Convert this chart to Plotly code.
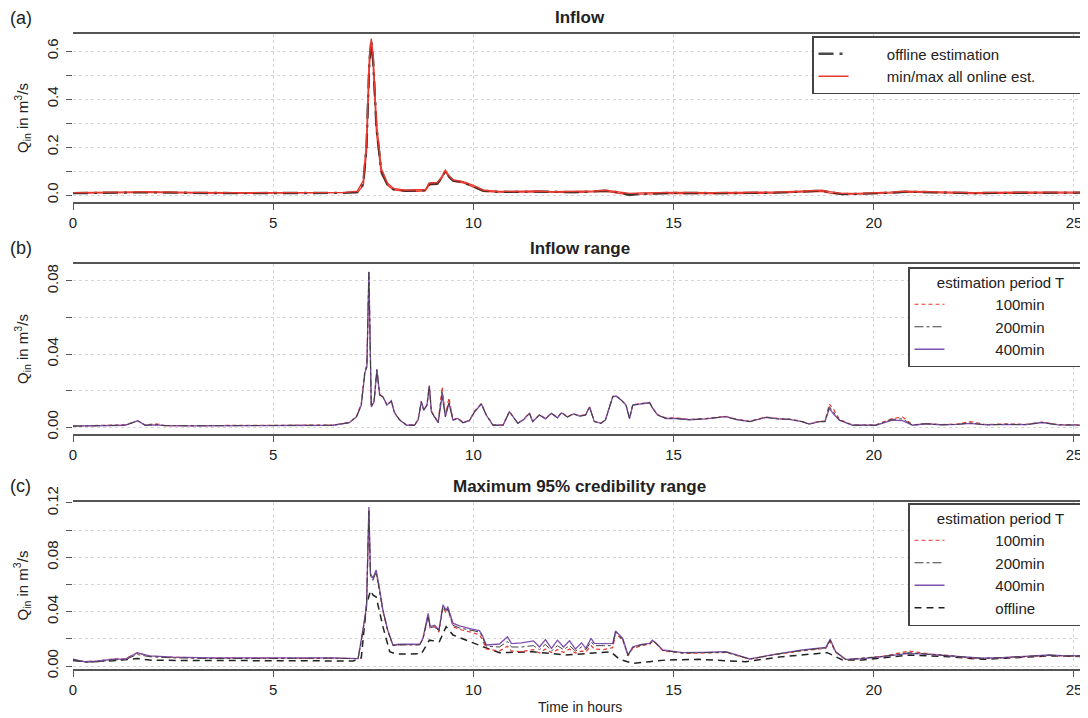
import plotly.graph_objects as go

# ---------------- data ----------------
# Panel (a): Inflow
t_a = [0, 0.5, 1.0, 1.5, 1.8, 2.2, 3, 4, 5, 6,
       6.8, 7.1, 7.25, 7.33, 7.4, 7.45, 7.5, 7.58, 7.7, 7.85,
       8.0, 8.3, 8.6, 8.8, 8.9, 9.1, 9.2, 9.3, 9.4, 9.5,
       9.75, 10.0, 10.25, 10.6, 11, 11.5, 12, 12.5, 13.0, 13.3,
       13.6, 13.9, 14.2, 14.6, 15, 16, 17, 17.5, 18.0, 18.4,
       18.7, 18.9, 19.2, 19.6, 20, 20.4, 20.8, 21.2, 21.6, 22,
       22.5, 23, 23.5, 24.1, 24.6, 25.3]
a_offline = [0.008, 0.008, 0.009, 0.011, 0.012, 0.010, 0.009, 0.008, 0.008, 0.008,
             0.009, 0.012, 0.05, 0.20, 0.55, 0.646, 0.55, 0.28, 0.10, 0.045,
             0.025, 0.018, 0.018, 0.02, 0.046, 0.048, 0.07, 0.101, 0.075, 0.06,
             0.054, 0.037, 0.018, 0.014, 0.013, 0.015, 0.012, 0.012, 0.015, 0.018,
             0.012, 0.0, 0.005, 0.008, 0.009, 0.008, 0.008, 0.01, 0.013, 0.015,
             0.018, 0.012, 0.004, 0.005, 0.006, 0.01, 0.014, 0.012, 0.01, 0.009,
             0.008, 0.009, 0.01, 0.012, 0.01, 0.01]
a_online_max = [0.010, 0.010, 0.011, 0.013, 0.014, 0.012, 0.011, 0.010, 0.010, 0.010,
                0.011, 0.016, 0.06, 0.22, 0.57, 0.652, 0.57, 0.30, 0.11, 0.05,
                0.028, 0.02, 0.02, 0.023, 0.05, 0.052, 0.074, 0.104, 0.078, 0.063,
                0.056, 0.04, 0.02, 0.016, 0.015, 0.017, 0.014, 0.014, 0.017, 0.02,
                0.015, 0.007, 0.009, 0.01, 0.011, 0.01, 0.01, 0.012, 0.015, 0.017,
                0.02, 0.014, 0.007, 0.007, 0.008, 0.012, 0.016, 0.014, 0.012, 0.011,
                0.01, 0.011, 0.012, 0.014, 0.012, 0.012]
a_online_min = [0.007, 0.007, 0.008, 0.010, 0.011, 0.009, 0.008, 0.007, 0.007, 0.007,
                0.008, 0.010, 0.04, 0.18, 0.53, 0.64, 0.53, 0.26, 0.09, 0.042,
                0.022, 0.016, 0.016, 0.018, 0.043, 0.045, 0.067, 0.098, 0.072, 0.057,
                0.051, 0.034, 0.016, 0.012, 0.011, 0.013, 0.010, 0.010, 0.013, 0.016,
                0.008, 0.002, 0.004, 0.006, 0.007, 0.006, 0.006, 0.008, 0.011, 0.013,
                0.016, 0.008, 0.003, 0.004, 0.005, 0.008, 0.012, 0.010, 0.008, 0.007,
                0.006, 0.007, 0.008, 0.010, 0.008, 0.008]

# Panel (b): Inflow range
t_b = [0, 0.8, 1.3, 1.62, 1.8, 2.07, 2.3, 3, 4, 5,
       6, 6.5, 6.9, 7.08, 7.2, 7.29, 7.34, 7.39, 7.45, 7.52,
       7.59, 7.66, 7.74, 7.84, 7.95, 8.03, 8.16, 8.33, 8.53, 8.62,
       8.7, 8.76, 8.84, 8.9, 8.95, 9.03, 9.12, 9.22, 9.3, 9.39,
       9.49, 9.61, 9.74, 9.9, 10.03, 10.2, 10.32, 10.49, 10.74, 10.9,
       10.99, 11.11, 11.25, 11.4, 11.48, 11.65, 11.8, 11.95, 12.1, 12.2,
       12.35, 12.5, 12.65, 12.8, 12.9, 13.02, 13.19, 13.3, 13.48, 13.56,
       13.69, 13.81, 13.9, 13.98, 14.15, 14.31, 14.4, 14.48, 14.6, 14.81,
       15.06, 15.4, 15.8, 16.3, 16.6, 16.9, 17.31, 17.6, 17.89, 18.2,
       18.39, 18.64, 18.78, 18.89, 19.0, 19.14, 19.47, 20.05, 20.46, 20.72,
       20.97, 21.3, 21.7, 22.1, 22.4, 22.8, 23.3, 23.8, 24.2, 24.6,
       25.3]
b_100 = [0.0006, 0.0009, 0.0012, 0.0033, 0.0012, 0.0018, 0.0008, 0.0008, 0.0008, 0.0009,
         0.0009, 0.0011, 0.0025, 0.0058, 0.013, 0.031, 0.034, 0.084, 0.012, 0.0145,
         0.031, 0.018, 0.0165, 0.0125, 0.014, 0.008, 0.004, 0.0012, 0.0012, 0.0042,
         0.0142, 0.0095, 0.0122, 0.0228, 0.0088, 0.006, 0.0026, 0.022, 0.006, 0.016,
         0.004, 0.005, 0.0026, 0.0036, 0.0088, 0.013, 0.0068, 0.0012, 0.0012, 0.0086,
         0.0058, 0.0022, 0.0042, 0.0078, 0.0032, 0.0068, 0.0047, 0.0077, 0.0052, 0.008,
         0.0057, 0.0074, 0.0062, 0.0067, 0.0112, 0.0032, 0.0022, 0.0042, 0.0168, 0.0172,
         0.015, 0.0122, 0.005, 0.0122, 0.0128, 0.0132, 0.0135, 0.0104, 0.0068, 0.005,
         0.005, 0.0042, 0.0047, 0.0059, 0.0042, 0.0032, 0.0055, 0.0047, 0.0044, 0.0032,
         0.0018, 0.0032, 0.0032, 0.0126, 0.0095, 0.0042, 0.0012, 0.0012, 0.0047, 0.0055,
         0.0012, 0.002, 0.0014, 0.0017, 0.003, 0.0014, 0.0017, 0.0015, 0.0027, 0.0014,
         0.0012]
b_200 = [0.0005, 0.0008, 0.001, 0.0034, 0.001, 0.0013, 0.0008, 0.0007, 0.0007, 0.0008,
         0.0008, 0.001, 0.0024, 0.0055, 0.012, 0.0298, 0.033, 0.0848, 0.011, 0.014,
         0.0314, 0.0174, 0.0166, 0.012, 0.0143, 0.0078, 0.0038, 0.001, 0.001, 0.004,
         0.0138, 0.0093, 0.012, 0.0224, 0.0084, 0.0057, 0.0024, 0.019, 0.0057, 0.014,
         0.0038, 0.0047, 0.0024, 0.0035, 0.0084, 0.0126, 0.0066, 0.001, 0.001, 0.0084,
         0.0057, 0.002, 0.004, 0.0075, 0.003, 0.0066, 0.0045, 0.0075, 0.005, 0.0078,
         0.0055, 0.0072, 0.006, 0.0065, 0.011, 0.003, 0.002, 0.004, 0.0166, 0.017,
         0.0148, 0.012, 0.0047, 0.012, 0.0126, 0.013, 0.0133, 0.0102, 0.0066, 0.0047,
         0.0047, 0.004, 0.0045, 0.0057, 0.004, 0.003, 0.0053, 0.0045, 0.0042, 0.003,
         0.0016, 0.003, 0.003, 0.0112, 0.008, 0.0038, 0.001, 0.001, 0.0042, 0.0045,
         0.001, 0.0018, 0.0012, 0.0015, 0.0022, 0.0012, 0.0015, 0.0013, 0.0025, 0.0012,
         0.001]
b_400 = [0.0005, 0.0008, 0.001, 0.0035, 0.001, 0.0012, 0.0008, 0.0007, 0.0007, 0.0008,
         0.0008, 0.001, 0.0024, 0.0056, 0.012, 0.030, 0.033, 0.0851, 0.011, 0.014,
         0.0316, 0.0175, 0.0166, 0.012, 0.0144, 0.0078, 0.0038, 0.001, 0.001, 0.004,
         0.0139, 0.0093, 0.012, 0.0225, 0.0084, 0.0057, 0.0024, 0.0175, 0.0057, 0.013,
         0.0038, 0.0047, 0.0024, 0.0035, 0.0084, 0.0126, 0.0066, 0.001, 0.001, 0.0084,
         0.0057, 0.002, 0.004, 0.0075, 0.003, 0.0066, 0.0045, 0.0075, 0.005, 0.0078,
         0.0055, 0.0072, 0.006, 0.0065, 0.011, 0.003, 0.002, 0.004, 0.0166, 0.017,
         0.0148, 0.012, 0.0047, 0.012, 0.0126, 0.013, 0.0133, 0.0102, 0.0066, 0.0047,
         0.0047, 0.004, 0.0045, 0.0057, 0.004, 0.003, 0.0053, 0.0045, 0.0042, 0.003,
         0.0016, 0.003, 0.003, 0.0102, 0.007, 0.0038, 0.001, 0.001, 0.0038, 0.0035,
         0.001, 0.0018, 0.0012, 0.0015, 0.002, 0.0012, 0.0015, 0.0013, 0.0025, 0.0012,
         0.001]

# Panel (c): Maximum 95% credibility range
t_c = [0, 0.3, 0.6, 1.0, 1.3, 1.6, 1.92, 2.5, 3.5, 4.5,
       5.5, 6.5, 7.0, 7.12, 7.24, 7.33, 7.39, 7.43, 7.49, 7.57,
       7.64, 7.74, 7.86, 7.99, 8.16, 8.4, 8.66, 8.74, 8.87, 8.92,
       9.03, 9.14, 9.24, 9.32, 9.36, 9.49, 9.65, 9.99, 10.15, 10.22,
       10.32, 10.65, 10.85, 10.95, 11.2, 11.5, 11.65, 11.8, 11.95, 12.1,
       12.25, 12.4, 12.55, 12.7, 12.81, 12.94, 13.02, 13.25, 13.48, 13.55,
       13.73, 13.86, 13.98, 14.2, 14.4, 14.47, 14.56, 14.73, 15.23, 15.7,
       16.31, 16.9, 17.56, 18.22, 18.8, 18.91, 19.05, 19.3, 19.7, 20.22,
       20.88, 21.4, 21.88, 22.3, 22.71, 23.2, 23.8, 24.38, 24.8, 25.3]
c_100 = [0.005, 0.0032, 0.0035, 0.0052, 0.0052, 0.0095, 0.0072, 0.0064, 0.006, 0.006,
         0.006, 0.006, 0.006, 0.0055, 0.026, 0.043, 0.115, 0.066, 0.065, 0.069,
         0.058, 0.04, 0.026, 0.015, 0.0158, 0.0158, 0.0158, 0.02, 0.036, 0.028,
         0.029, 0.025, 0.043, 0.039, 0.042, 0.029, 0.027, 0.0245, 0.023, 0.02,
         0.0125, 0.011, 0.0145, 0.011, 0.0105, 0.012, 0.0095, 0.0125, 0.0098, 0.012,
         0.01, 0.0125, 0.0095, 0.011, 0.0105, 0.015, 0.0125, 0.012, 0.0135, 0.024,
         0.019, 0.0075, 0.013, 0.015, 0.016, 0.018, 0.0165, 0.0112, 0.0095, 0.0095,
         0.01, 0.005, 0.0085, 0.0112, 0.013, 0.018, 0.01, 0.0045, 0.0055, 0.0072,
         0.011, 0.0088, 0.0078, 0.0062, 0.0055, 0.006, 0.0068, 0.0078, 0.0072, 0.0074]
c_200 = [0.0045, 0.0028, 0.003, 0.0045, 0.0045, 0.0085, 0.0068, 0.006, 0.0055, 0.0058,
         0.0056, 0.0058, 0.0058, 0.0053, 0.025, 0.042, 0.114, 0.066, 0.063, 0.069,
         0.058, 0.041, 0.026, 0.0152, 0.0155, 0.0155, 0.0155, 0.02, 0.037, 0.028,
         0.029, 0.026, 0.044, 0.04, 0.042, 0.03, 0.028, 0.026, 0.025, 0.022,
         0.0145, 0.014, 0.018, 0.014, 0.014, 0.015, 0.012, 0.016, 0.011, 0.015,
         0.012, 0.015, 0.011, 0.014, 0.012, 0.018, 0.015, 0.015, 0.015, 0.025,
         0.0195, 0.0078, 0.0135, 0.0155, 0.0162, 0.0185, 0.0168, 0.0115, 0.0096, 0.0098,
         0.0102, 0.0051, 0.0086, 0.0115, 0.0133, 0.019, 0.0102, 0.0047, 0.0055, 0.007,
         0.0098, 0.0086, 0.0077, 0.0064, 0.0056, 0.0061, 0.0069, 0.008, 0.0074, 0.0075]
c_400 = [0.005, 0.003, 0.0035, 0.005, 0.005, 0.0098, 0.0074, 0.0065, 0.006, 0.0062,
         0.006, 0.006, 0.006, 0.0055, 0.0265, 0.0437, 0.117, 0.068, 0.0646, 0.0707,
         0.0597, 0.0413, 0.0265, 0.0155, 0.016, 0.016, 0.016, 0.0204, 0.0388, 0.029,
         0.030, 0.0265, 0.045, 0.041, 0.0437, 0.0315, 0.0295, 0.027, 0.026, 0.0228,
         0.0155, 0.0162, 0.0216, 0.0165, 0.017, 0.0185, 0.014, 0.0195, 0.013, 0.019,
         0.014, 0.0185, 0.0125, 0.017, 0.013, 0.0204, 0.0167, 0.0165, 0.0167, 0.0258,
         0.0204, 0.0081, 0.0142, 0.016, 0.0167, 0.019, 0.017, 0.0118, 0.0098, 0.01,
         0.0105, 0.0052, 0.0088, 0.0118, 0.0137, 0.0196, 0.0105, 0.0049, 0.0055, 0.0069,
         0.0093, 0.0085, 0.0076, 0.0065, 0.0057, 0.0062, 0.007, 0.0081, 0.0075, 0.0076]
t_c_off = [0, 0.3, 1.0, 1.6, 2.0, 3, 4, 5, 6, 7.0,
           7.2, 7.33, 7.43, 7.5, 7.57, 7.74, 7.91, 8.07, 8.7, 8.9,
           9.15, 9.32, 9.49, 9.99, 10.24, 10.65, 11.48, 12.31, 13.14, 13.43,
           13.65, 13.98, 14.4, 14.81, 15.64, 16.8, 17.72, 18.55, 18.84, 19.22,
           19.72, 20.88, 21.88, 22.71, 24.38, 25.3]
c_offline = [0.004, 0.0032, 0.0038, 0.0055, 0.0042, 0.004, 0.0038, 0.0037, 0.0037, 0.0037,
             0.006, 0.045, 0.0555, 0.052, 0.051, 0.029, 0.0105, 0.0088, 0.009, 0.019,
             0.0179, 0.029, 0.0228, 0.0167, 0.0142, 0.0098, 0.0105, 0.0081, 0.0098, 0.0105,
             0.0049, 0.002, 0.0032, 0.0044, 0.0049, 0.0032, 0.0069, 0.0088, 0.0098, 0.0044,
             0.0044, 0.0081, 0.0069, 0.0049, 0.0074, 0.007]

x_ticks = [0, 5, 10, 15, 20, 25]
panel_titles = ["Inflow", "Inflow range", "Maximum 95% credibility range"]
panel_letters = ["(a)", "(b)", "(c)"]
legend_title = "estimation period T"

# ---------------- styling ----------------
OFF = 8                      # page body margin in the viewer
W, H = 1088 - OFF, 718 - OFF
FONT = "Liberation Sans, Arial, Helvetica, sans-serif"
TXT = "#222222"
RED = "#e8392f"
PURPLE = "#7e4fae"
GRAY = "#404040"
GRID = "#d6d6d6"
AXC = "#555555"
NB = "\u00a0"

def px(p):
    return (p - OFF) / W

def py(p):
    return 1 - (p - OFF) / H

x0, x1 = px(73), px(1086)
panels = [(34, 202), (264, 434), (502, 669)]
yranges = [[-0.029, 0.671], [-0.0038, 0.0893], [-0.0022, 0.1207]]
ydt = [(0.2, 0.1, ".1f"), (0.04, 0.02, ".2f"), (0.04, 0.02, ".2f")]

def lg(name, lead, trail):
    return NB * lead + name + NB * trail

fig = go.Figure()

# (a)
fig.add_trace(go.Scatter(x=t_a, y=a_online_min, mode="lines", name=lg("min/max all online est.", 8, 12),
                         line=dict(color=RED, width=1.4), showlegend=False,
                         xaxis="x", yaxis="y", legend="legend"))
fig.add_trace(go.Scatter(x=t_a, y=a_offline, mode="lines", name=lg("offline estimation", 8, 12),
                         line=dict(color="#2a2a2a", width=2.4, dash="longdashdot"),
                         opacity=0.85, legendrank=1,
                         xaxis="x", yaxis="y", legend="legend"))
fig.add_trace(go.Scatter(x=t_a, y=a_online_max, mode="lines", name=lg("min/max all online est.", 8, 12),
                         line=dict(color=RED, width=1.4), legendrank=2,
                         xaxis="x", yaxis="y", legend="legend"))

# (b)
fig.add_trace(go.Scatter(x=t_b, y=b_100, mode="lines", name=lg("100min", 11, 10), legendrank=1,
                         line=dict(color=RED, width=1.2, dash="4px,3px"),
                         xaxis="x2", yaxis="y2", legend="legend2"))
fig.add_trace(go.Scatter(x=t_b, y=b_400, mode="lines", name=lg("400min", 11, 10), legendrank=3,
                         line=dict(color=PURPLE, width=1.3),
                         xaxis="x2", yaxis="y2", legend="legend2"))
fig.add_trace(go.Scatter(x=t_b, y=b_200, mode="lines", name=lg("200min", 11, 10), legendrank=2,
                         line=dict(color=GRAY, width=1.0, dash="dashdot"),
                         xaxis="x2", yaxis="y2", legend="legend2"))

# (c)
fig.add_trace(go.Scatter(x=t_c_off, y=c_offline, mode="lines", name=lg("offline", 11, 10), legendrank=4,
                         line=dict(color="#222222", width=1.5, dash="7px,5px"),
                         xaxis="x3", yaxis="y3", legend="legend3"))
fig.add_trace(go.Scatter(x=t_c, y=c_100, mode="lines", name=lg("100min", 11, 10), legendrank=1,
                         line=dict(color=RED, width=1.2, dash="4px,3px"),
                         xaxis="x3", yaxis="y3", legend="legend3"))
fig.add_trace(go.Scatter(x=t_c, y=c_400, mode="lines", name=lg("400min", 11, 10), legendrank=3,
                         line=dict(color=PURPLE, width=1.3),
                         xaxis="x3", yaxis="y3", legend="legend3"))
fig.add_trace(go.Scatter(x=t_c, y=c_200, mode="lines", name=lg("200min", 11, 10), legendrank=2,
                         line=dict(color=GRAY, width=1.0, dash="dashdot"),
                         xaxis="x3", yaxis="y3", legend="legend3"))

layout = dict(
    width=W, height=H, margin=dict(l=0, r=0, t=0, b=0, pad=0, autoexpand=False),
    paper_bgcolor="white", plot_bgcolor="white",
    font=dict(family=FONT, color=TXT, size=14),
)
annotations = []
for i, ((top, bot), yr, (dt, mdt, fmt)) in enumerate(zip(panels, yranges, ydt)):
    sx = "" if i == 0 else str(i + 1)
    layout["xaxis" + sx] = dict(
        domain=[x0, x1], range=[0, 25.3], anchor="y" + sx, automargin=False,
        tickmode="array", tickvals=x_ticks, ticks="outside", ticklen=6,
        tickcolor=AXC, tickwidth=1, showline=True, mirror=True, linecolor=AXC,
        linewidth=1.5, showgrid=True, gridcolor=GRID, griddash="dot", gridwidth=1,
        zeroline=False, tickfont=dict(size=15, color=TXT),
    )
    layout["yaxis" + sx] = dict(
        domain=[py(bot), py(top)], range=yr, anchor="x" + sx, automargin=False,
        tick0=0, dtick=dt, tickformat=fmt, ticks="outside", ticklen=6,
        tickcolor=AXC, showline=False, showgrid=True, gridcolor=GRID,
        griddash="dot", zeroline=False, tickangle=-90,
        tickfont=dict(size=15, color=TXT), ticklabelstandoff=2,
        minor=dict(tick0=0, dtick=mdt, ticks="outside", ticklen=6, tickcolor=AXC,
                   showgrid=True, gridcolor=GRID, griddash="dot"),
    )
    annotations.append(dict(text="<b>" + panel_titles[i] + "</b>", x=(x0 + x1) / 2,
                            y=py(top - 16), xref="paper", yref="paper",
                            showarrow=False, font=dict(size=17, color=TXT),
                            xanchor="center", yanchor="middle"))
    annotations.append(dict(text=panel_letters[i], x=px(8), y=py(top - 16),
                            xref="paper", yref="paper", showarrow=False,
                            font=dict(size=18, color=TXT), xanchor="left",
                            yanchor="middle"))
    annotations.append(dict(text="Q<sub>in</sub> in m<sup>3</sup>/s", x=px(22),
                            y=py((top + bot) / 2), xref="paper", yref="paper",
                            showarrow=False, textangle=-90,
                            font=dict(size=15, color=TXT),
                            xanchor="center", yanchor="middle"))
annotations.append(dict(text="Time in hours", x=(x0 + x1) / 2, y=py(707),
                        xref="paper", yref="paper", showarrow=False,
                        font=dict(size=14, color=TXT), xanchor="center",
                        yanchor="middle"))
layout["annotations"] = annotations

leg_common = dict(bgcolor="white", bordercolor="#444444", borderwidth=1.5,
                  font=dict(size=15, color=TXT), xanchor="right", yanchor="top",
                  traceorder="normal", xref="paper", yref="paper")
layout["legend"] = dict(leg_common, x=px(1092), y=py(36))
layout["legend2"] = dict(leg_common, x=px(1093), y=py(267),
                         title=dict(text=legend_title, side="top center",
                                    font=dict(size=15, color=TXT)))
layout["legend3"] = dict(leg_common, x=px(1093), y=py(503),
                         title=dict(text=legend_title, side="top center",
                                    font=dict(size=15, color=TXT)))

fig.update_layout(**layout)
fig.write_html("out.html")
